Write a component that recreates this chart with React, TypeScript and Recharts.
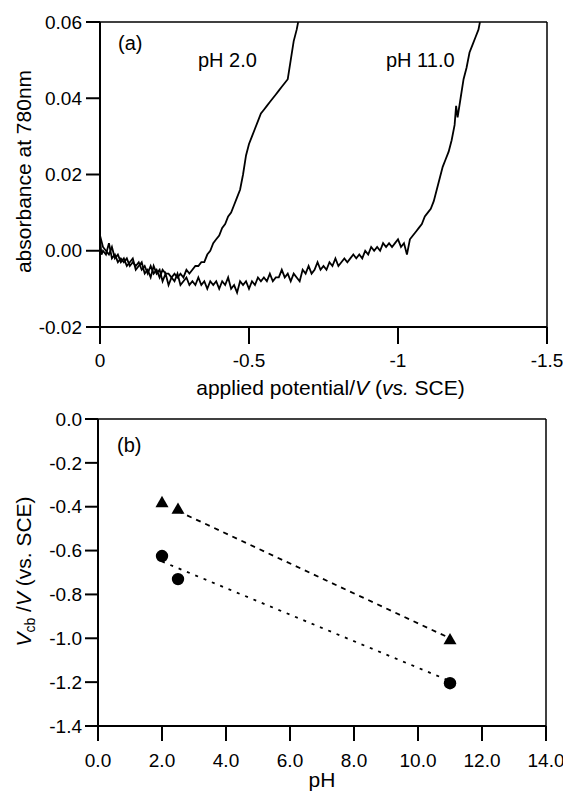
import React from 'react';
import { LineChart, ComposedChart, Line, Scatter, XAxis, YAxis, ReferenceLine, Label } from 'recharts';

const FONT = '"Liberation Sans", Arial, Helvetica, sans-serif';

// ---------- panel (a) ----------
const potentialTicks = [0, -0.5, -1, -1.5];
const absorbanceTicks = [0.06, 0.04, 0.02, 0, -0.02];

const ph2Potential = [
  0, -0.005, -0.01, -0.02, -0.03, -0.04, -0.05, -0.06, -0.07, -0.08, -0.09, -0.1, -0.11, -0.12, -0.13,
  -0.14, -0.15, -0.16, -0.17, -0.18, -0.19, -0.2, -0.21, -0.22, -0.23, -0.24, -0.25, -0.26, -0.27, -0.28,
  -0.29, -0.3, -0.31, -0.32, -0.33, -0.34, -0.35, -0.36, -0.37, -0.38, -0.39, -0.4, -0.41, -0.42, -0.43,
  -0.44, -0.45, -0.46, -0.47, -0.48, -0.49, -0.5, -0.51, -0.52, -0.53, -0.54, -0.55, -0.56, -0.57, -0.58,
  -0.59, -0.6, -0.61, -0.62, -0.63, -0.64, -0.65, -0.66, -0.665,
];
const ph2Absorbance = [
  0.003, -0.001, 0.0, -0.001, 0.002, -0.002, -0.001, -0.003, -0.002, -0.003, -0.002, -0.004, -0.003, -0.004, -0.003,
  -0.005, -0.004, -0.006, -0.004, -0.006, -0.005, -0.007, -0.005, -0.006, -0.006, -0.007, -0.006, -0.007, -0.006, -0.007,
  -0.005, -0.006, -0.005, -0.004, -0.004, -0.003, -0.003, -0.001, 0.0, 0.002, 0.003, 0.004, 0.006, 0.007, 0.009,
  0.01, 0.012, 0.014, 0.016, 0.02, 0.025, 0.028, 0.03, 0.032, 0.034, 0.036, 0.037, 0.038, 0.039, 0.04,
  0.041, 0.042, 0.043, 0.044, 0.045, 0.05, 0.055, 0.058, 0.06,
];

const ph11Potential = [
  0, -0.01, -0.02, -0.03, -0.04, -0.05, -0.06, -0.07, -0.08, -0.09, -0.1, -0.11, -0.12, -0.13, -0.14,
  -0.15, -0.16, -0.17, -0.18, -0.19, -0.2, -0.21, -0.22, -0.23, -0.24, -0.25, -0.26, -0.27, -0.28, -0.29,
  -0.3, -0.31, -0.32, -0.33, -0.34, -0.35, -0.36, -0.37, -0.38, -0.39, -0.4, -0.41, -0.42, -0.43, -0.44,
  -0.45, -0.46, -0.47, -0.48, -0.49, -0.5, -0.51, -0.52, -0.53, -0.54, -0.55, -0.56, -0.57, -0.58, -0.59,
  -0.6, -0.61, -0.62, -0.63, -0.64, -0.65, -0.66, -0.67, -0.68, -0.69, -0.7, -0.71, -0.72, -0.73, -0.74,
  -0.75, -0.76, -0.77, -0.78, -0.79, -0.8, -0.81, -0.82, -0.83, -0.84, -0.85, -0.86, -0.87, -0.88, -0.89,
  -0.9, -0.91, -0.92, -0.93, -0.94, -0.95, -0.96, -0.97, -0.98, -0.99, -1.0, -1.01, -1.02, -1.03, -1.04,
  -1.05, -1.06, -1.07, -1.08, -1.09, -1.1, -1.11, -1.12, -1.13, -1.14, -1.15, -1.16, -1.17, -1.18, -1.19,
  -1.195, -1.2, -1.21, -1.22, -1.23, -1.24, -1.25, -1.26, -1.27, -1.275,
];
const ph11Absorbance = [
  0.004, 0.001, 0.0, -0.001, 0.001, -0.002, -0.001, -0.003, -0.002, -0.004, -0.003, -0.002, -0.005, -0.004, -0.003,
  -0.006, -0.005, -0.007, -0.004, -0.006, -0.005, -0.008, -0.006, -0.009, -0.007, -0.008, -0.006, -0.009, -0.008, -0.007,
  -0.009, -0.008, -0.009, -0.007, -0.009, -0.008, -0.01, -0.008, -0.009, -0.008, -0.01, -0.008, -0.009, -0.007, -0.01,
  -0.009, -0.011, -0.008, -0.009, -0.008, -0.01, -0.008, -0.009, -0.007, -0.008, -0.007, -0.008, -0.006, -0.008, -0.007,
  -0.007, -0.005, -0.007, -0.006, -0.008, -0.006, -0.007, -0.008, -0.005, -0.006, -0.004, -0.006, -0.005, -0.003, -0.005,
  -0.004, -0.005, -0.003, -0.004, -0.002, -0.004, -0.003, -0.002, -0.003, -0.002, -0.001, -0.002, -0.001, -0.002, 0.0,
  -0.001, 0.001, 0.0, 0.001, 0.0, 0.002, 0.001, 0.002, 0.001, 0.002, 0.003, 0.001, 0.002, -0.001, 0.003,
  0.004, 0.005, 0.006, 0.007, 0.009, 0.01, 0.011, 0.013, 0.016, 0.019, 0.022, 0.024, 0.026, 0.029, 0.033,
  0.038, 0.035, 0.04, 0.045, 0.048, 0.052, 0.054, 0.056, 0.058, 0.06,
];

// ---------- panel (b) ----------
const phTicks = [0, 2, 4, 6, 8, 10, 12, 14];
const vcbTicks = [0, -0.2, -0.4, -0.6, -0.8, -1.0, -1.2, -1.4];
const trianglePH = [2.0, 2.5, 11.0];
const triangleVcb = [-0.38, -0.41, -1.005];
const circlePH = [2.0, 2.5, 11.0];
const circleVcb = [-0.625, -0.73, -1.205];
const triangleFitPH = [2.5, 11.0];
const triangleFitVcb = [-0.42, -1.0];
const circleFitPH = [2.0, 11.0];
const circleFitVcb = [-0.65, -1.195];

const zip = (xs: number[], ys: number[]) => xs.map((x, i) => ({ x, y: ys[i] }));

const ph2Data = zip(ph2Potential, ph2Absorbance);
const ph11Data = zip(ph11Potential, ph11Absorbance);
const triData = zip(trianglePH, triangleVcb);
const cirData = zip(circlePH, circleVcb);
const triFit = zip(triangleFitPH, triangleFitVcb);
const cirFit = zip(circleFitPH, circleFitVcb);

const tickStyle = { fontSize: 19, fill: '#000', fontFamily: FONT };
const axisLine = { stroke: '#000', strokeWidth: 2 };
const tickLine = { stroke: '#000', strokeWidth: 2 };

const TriangleShape = (props: any) => {
  const { cx, cy } = props;
  const s = 6.5;
  return (
    <polygon
      points={`${cx},${cy - s} ${cx - s},${cy + s * 0.75} ${cx + s},${cy + s * 0.75}`}
      fill="#000"
    />
  );
};
const CircleShape = (props: any) => <circle cx={props.cx} cy={props.cy} r={6.2} fill="#000" />;

const annot = (left: number, top: number, text: string) => (
  <div
    style={{
      position: 'absolute',
      left,
      top,
      fontFamily: FONT,
      fontSize: 20,
      lineHeight: '20px',
      color: '#000',
      whiteSpace: 'nowrap',
    }}
  >
    {text}
  </div>
);

export default function App() {
  return (
    <div style={{ position: 'absolute', left: 0, top: 0, width: 563, height: 792, background: '#fff' }}>
      <div style={{ position: 'absolute', left: 0, top: 0 }}>
        <LineChart width={563} height={400} margin={{ top: 22, right: 16, bottom: 0, left: 0 }}>
          <XAxis
            dataKey="x"
            type="number"
            domain={[-1.5, 0]}
            reversed
            ticks={potentialTicks}
            tickFormatter={(v: number) => String(v)}
            height={73}
            tickSize={17}
            tickMargin={10}
            tick={tickStyle}
            axisLine={axisLine}
            tickLine={tickLine}
            allowDataOverflow
          >
            <Label
              content={(p: any) => {
                const vb = p.viewBox;
                return (
                  <text
                    x={vb.x + vb.width / 2 + 7}
                    y={vb.y + 68}
                    textAnchor="middle"
                    fontSize={21}
                    fontFamily={FONT}
                    fill="#000"
                  >
                    applied potential/<tspan fontStyle="italic">V</tspan> (<tspan fontStyle="italic">vs.</tspan> SCE)
                  </text>
                );
              }}
            />
          </XAxis>
          <YAxis
            type="number"
            domain={[-0.02, 0.06]}
            ticks={absorbanceTicks}
            tickFormatter={(v: number) => v.toFixed(2)}
            width={100}
            tickSize={14}
            tickMargin={4}
            tick={tickStyle}
            axisLine={axisLine}
            tickLine={tickLine}
            allowDataOverflow
          >
            <Label
              content={(p: any) => {
                const vb = p.viewBox;
                const cy = vb.y + vb.height / 2 - 3;
                return (
                  <text
                    x={31}
                    y={cy}
                    transform={`rotate(-90, 31, ${cy})`}
                    textAnchor="middle"
                    fontSize={21}
                    fontFamily={FONT}
                    fill="#000"
                  >
                    absorbance at 780nm
                  </text>
                );
              }}
            />
          </YAxis>
          <ReferenceLine y={0.06} stroke="#000" strokeWidth={1.5} />
          <ReferenceLine x={-1.5} stroke="#000" strokeWidth={1.5} />
          <Line data={ph2Data} dataKey="y" stroke="#000" strokeWidth={1.8} dot={false} isAnimationActive={false} />
          <Line data={ph11Data} dataKey="y" stroke="#000" strokeWidth={1.8} dot={false} isAnimationActive={false} />
        </LineChart>
      </div>

      <div style={{ position: 'absolute', left: 0, top: 400 }}>
        <ComposedChart width={563} height={392} margin={{ top: 19, right: 17, bottom: 0, left: 0 }}>
          <XAxis
            dataKey="x"
            type="number"
            domain={[0, 14]}
            ticks={phTicks}
            tickFormatter={(v: number) => v.toFixed(1)}
            height={66}
            tickSize={15}
            tickMargin={13}
            tick={tickStyle}
            axisLine={axisLine}
            tickLine={tickLine}
          >
            <Label
              content={(p: any) => {
                const vb = p.viewBox;
                return (
                  <text
                    x={vb.x + vb.width / 2}
                    y={vb.y + 61}
                    textAnchor="middle"
                    fontSize={21}
                    fontFamily={FONT}
                    fill="#000"
                  >
                    pH
                  </text>
                );
              }}
            />
          </XAxis>
          <YAxis
            type="number"
            domain={[-1.4, 0]}
            ticks={vcbTicks}
            tickFormatter={(v: number) => v.toFixed(1)}
            width={98}
            tickSize={13}
            tickMargin={3}
            tick={tickStyle}
            axisLine={axisLine}
            tickLine={tickLine}
          >
            <Label
              content={(p: any) => {
                const vb = p.viewBox;
                const cy = vb.y + vb.height / 2 - 1;
                return (
                  <text
                    x={31}
                    y={cy}
                    transform={`rotate(-90, 31, ${cy})`}
                    textAnchor="middle"
                    fontSize={21}
                    fontFamily={FONT}
                    fill="#000"
                  >
                    <tspan fontStyle="italic">V</tspan>
                    <tspan fontSize={14} dy={4}>cb</tspan>
                    <tspan dy={-4}> /</tspan>
                    <tspan fontStyle="italic">V</tspan>
                    <tspan> (vs. SCE)</tspan>
                  </text>
                );
              }}
            />
          </YAxis>
          <ReferenceLine y={0} stroke="#000" strokeWidth={1.5} />
          <ReferenceLine x={14} stroke="#000" strokeWidth={1.5} />
          <Line data={triFit} dataKey="y" stroke="#000" strokeWidth={1.8} strokeDasharray="5 5" dot={false} isAnimationActive={false} />
          <Line data={cirFit} dataKey="y" stroke="#000" strokeWidth={1.8} strokeDasharray="3 6" dot={false} isAnimationActive={false} />
          <Scatter data={triData} dataKey="y" shape={TriangleShape} isAnimationActive={false} />
          <Scatter data={cirData} dataKey="y" shape={CircleShape} isAnimationActive={false} />
        </ComposedChart>
      </div>

      {annot(118, 33, '(a)')}
      {annot(198, 50, 'pH 2.0')}
      {annot(386, 50, 'pH 11.0')}
      {annot(117, 435, '(b)')}
    </div>
  );
}
